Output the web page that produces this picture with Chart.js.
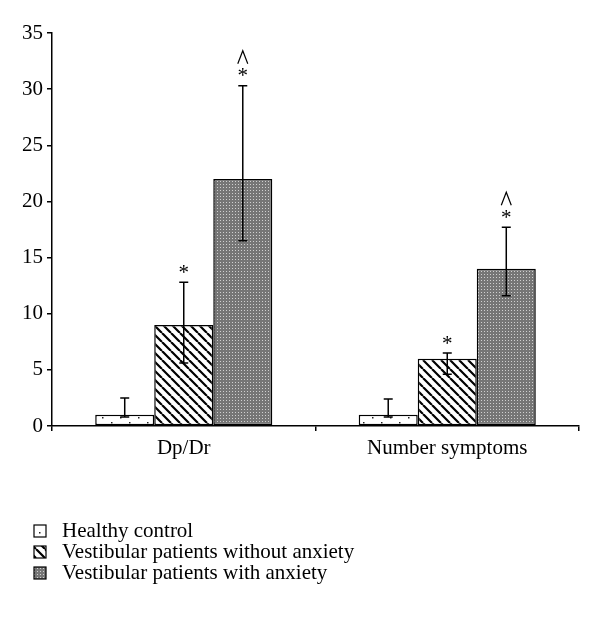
<!DOCTYPE html>
<html><head><meta charset="utf-8">
<script src="https://cdn.jsdelivr.net/npm/chart.js@4"></script>
<style>html,body{margin:0;padding:0;background:#fff}</style>
</head><body>
<canvas id="c" width="600" height="620" style="width:600px;height:620px;display:block"></canvas>
<script>
const categories = ['Dp/Dr', 'Number symptoms'];
const seriesLabels = ['Healthy control', 'Vestibular patients without anxiety', 'Vestibular patients with anxiety'];
const healthyControl = [1, 1];
const withoutAnxiety = [9, 6];
const withAnxiety = [22, 14];
const errUpperHealthy = [2.5, 2.4];
const errLowerHealthy = [0.8, 0.8];
const errUpperWithout = [12.8, 6.5];
const errLowerWithout = [5.6, 4.6];
const errUpperWith = [30.3, 17.7];
const errLowerWith = [16.5, 11.6];
const starMarks = [[false, false], [true, true], [true, true]];
const caretMarks = [[false, false], [false, false], [true, true]];
const yMin = 0, yMax = 35, yStep = 5;

const FONT = '"Liberation Serif", "DejaVu Serif", serif';

function dotsPattern() {
  const c = document.createElement('canvas'); c.width = 18; c.height = 10;
  const g = c.getContext('2d');
  g.fillStyle = '#fff'; g.fillRect(0, 0, 18, 10);
  g.fillStyle = '#222';
  g.fillRect(3, 2, 1.5, 1.5);
  g.fillRect(12, 7, 1.5, 1.5);
  return g.createPattern(c, 'repeat');
}
function hatchPattern() {
  const s = 9;
  const c = document.createElement('canvas'); c.width = s; c.height = s;
  const g = c.getContext('2d');
  g.fillStyle = '#fff'; g.fillRect(0, 0, s, s);
  g.strokeStyle = '#000'; g.lineWidth = 2.2;
  g.beginPath();
  for (let k = -1; k <= 1; k++) {
    g.moveTo(k * s, 0); g.lineTo(k * s + s, s);
  }
  g.stroke();
  return g.createPattern(c, 'repeat');
}
function greyPattern() {
  const c = document.createElement('canvas'); c.width = 3; c.height = 3;
  const g = c.getContext('2d');
  g.fillStyle = '#767676'; g.fillRect(0, 0, 3, 3);
  g.fillStyle = '#d0d0d0'; g.fillRect(1, 1, 1, 1);
  return g.createPattern(c, 'repeat');
}
const fills = [dotsPattern(), hatchPattern(), greyPattern()];
const uppers = [errUpperHealthy, errUpperWithout, errUpperWith];
const lowers = [errLowerHealthy, errLowerWithout, errLowerWith];

const errorBarPlugin = {
  id: 'errorBars',
  afterDatasetsDraw(chart) {
    const ctx = chart.ctx, y = chart.scales.y;
    ctx.save();
    chart.data.datasets.forEach((ds, di) => {
      const meta = chart.getDatasetMeta(di);
      meta.data.forEach((bar, i) => {
        const x = bar.x;
        const yt = y.getPixelForValue(uppers[di][i]);
        const yb = y.getPixelForValue(lowers[di][i]);
        ctx.strokeStyle = '#000'; ctx.lineWidth = 1.5;
        ctx.beginPath();
        ctx.moveTo(x, yt); ctx.lineTo(x, yb);
        ctx.moveTo(x - 4.5, yt); ctx.lineTo(x + 4.5, yt);
        ctx.moveTo(x - 4.5, yb); ctx.lineTo(x + 4.5, yb);
        ctx.stroke();
        ctx.fillStyle = '#000';
        ctx.font = '21px ' + FONT;
        ctx.textAlign = 'center'; ctx.textBaseline = 'middle';
        if (starMarks[di][i]) ctx.fillText('*', x, yt - 9);
        if (caretMarks[di][i]) {
          ctx.lineWidth = 1.2;
          ctx.beginPath();
          ctx.moveTo(x - 5, yt - 22); ctx.lineTo(x, yt - 35); ctx.lineTo(x + 5, yt - 22);
          ctx.stroke();
        }
      });
    });
    ctx.restore();
  }
};

const legendPlugin = {
  id: 'stackLegend',
  afterDraw(chart) {
    const ctx = chart.ctx;
    ctx.save();
    chart.data.datasets.forEach((ds, i) => {
      const cy = 531 + i * 21;
      ctx.fillStyle = ds.backgroundColor;
      ctx.fillRect(34, cy - 6, 12, 12);
      ctx.strokeStyle = '#000'; ctx.lineWidth = 1.2;
      ctx.strokeRect(34, cy - 6, 12, 12);
      ctx.fillStyle = '#000';
      ctx.font = '21px ' + FONT;
      ctx.textAlign = 'left'; ctx.textBaseline = 'middle';
      ctx.fillText(ds.label, 62, cy);
    });
    ctx.restore();
  }
};

const values = [healthyControl, withoutAnxiety, withAnxiety];
new Chart(document.getElementById('c'), {
  type: 'bar',
  data: {
    labels: categories,
    datasets: seriesLabels.map((lab, i) => ({
      label: lab,
      data: values[i],
      backgroundColor: fills[i],
      borderColor: '#000',
      borderWidth: 1.5,
      borderSkipped: false,
      barPercentage: 1,
      categoryPercentage: 0.672
    }))
  },
  options: {
    responsive: false,
    devicePixelRatio: 1,
    animation: false,
    layout: { padding: { top: 33, right: 21, left: 0, bottom: 134 } },
    plugins: { legend: { display: false }, tooltip: { enabled: false } },
    scales: {
      x: {
        grid: { display: true, drawOnChartArea: false, offset: true, tickLength: 5, color: '#000', lineWidth: 1.5 },
        border: { color: '#000', width: 1.5 },
        ticks: { color: '#000', font: { family: FONT, size: 21 }, padding: 5 },
        afterFit(s) { s.height = 60; }
      },
      y: {
        min: yMin, max: yMax,
        grid: { display: true, drawOnChartArea: false, tickLength: 5, color: '#000', lineWidth: 1.5 },
        border: { color: '#000', width: 1.5 },
        ticks: { stepSize: yStep, color: '#000', font: { family: FONT, size: 21 }, padding: 4 },
        afterFit(s) { s.width = 52; }
      }
    }
  },
  plugins: [errorBarPlugin, legendPlugin]
});
</script>
</body></html>
